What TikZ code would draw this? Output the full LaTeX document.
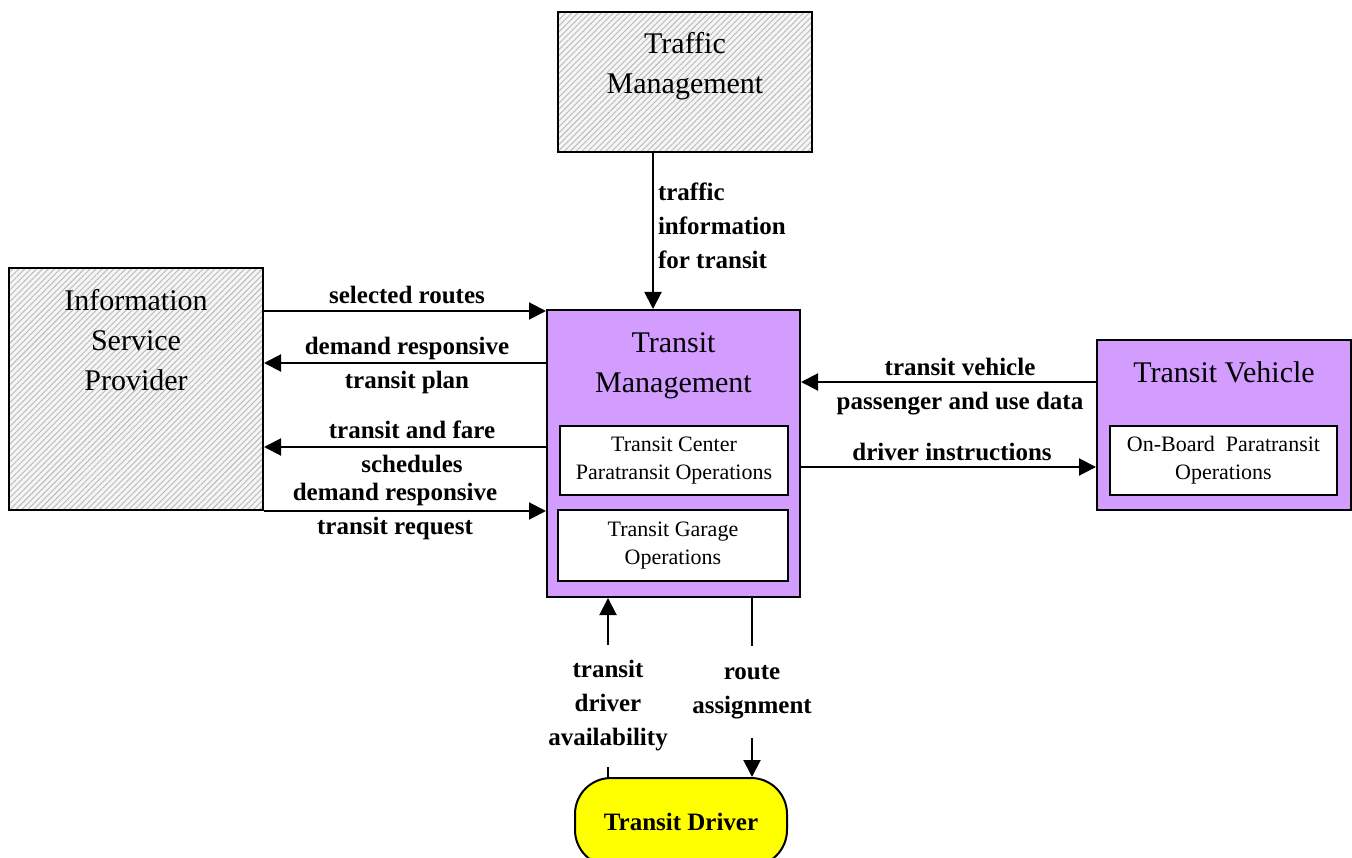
\documentclass[tikz,border=0pt]{standalone}
\usepackage{fontspec}
\setmainfont{Liberation Serif}
\usetikzlibrary{arrows.meta,patterns.meta}

\newcommand{\boxtitlefont}{\fontsize{30}{40}\selectfont}
\newcommand{\subboxfont}{\fontsize{22}{28}\selectfont}
\newcommand{\flowfont}{\bfseries\fontsize{25}{34}\selectfont}

\begin{document}
\begin{tikzpicture}[x=1pt, y=-1pt, line width=2pt,
    extern/.style={draw, preaction={fill=gray!8},
      pattern={Lines[angle=45, distance=4.2pt, line width=0.9pt]},
      pattern color=gray!55, inner sep=0pt},
    subsys/.style={draw, fill=tmpurple, inner sep=0pt},
    subbox/.style={draw, fill=white, align=center, font=\subboxfont, inner sep=0pt},
    boxtitle/.style={align=center, font=\boxtitlefont},
    flowlabel/.style={align=center, font=\flowfont, inner sep=0pt},
    arr/.style={-{Triangle[length=17pt,width=17pt]}}]

  % --- Colours ---
  \definecolor{tmpurple}{HTML}{D39CFF} % Transit Management / Vehicle
  \definecolor{drvyellow}{HTML}{FFFF00} % Transit Driver

  \useasboundingbox (0,0) rectangle (1352,858);

  % --- Terminators (hatched) ---
  \node[extern, minimum width=254pt, minimum height=140pt] (tfm) at (685,82) {};
  \node[boxtitle] (tfmtitle) at (685,66) {Traffic\\Management};

  \node[extern, minimum width=254pt, minimum height=242pt] (isp) at (136,389) {};
  \node[boxtitle] (isptitle) at (136,340) {Information\\Service\\Provider};

  % --- Transit Management ---
  \node[subsys, minimum width=253pt, minimum height=287pt] (tm) at (673.5,453.5) {};
  \node[boxtitle] (tmtitle) at (673.5,366) {Transit\\Management};
  \node[subbox, minimum width=228pt, minimum height=69pt] (tcpo) at (674,460.5)
    {Transit Center\\Paratransit Operations};
  \node[subbox, minimum width=230pt, minimum height=71pt] (tgo) at (673,545.5)
    {Transit Garage\\Operations};

  % --- Transit Vehicle ---
  \node[subsys, minimum width=254pt, minimum height=170pt] (tv) at (1224,425) {};
  \node[boxtitle] (tvtitle) at (1224,372) {Transit Vehicle};
  \node[subbox, minimum width=227pt, minimum height=69pt] (obpo) at (1223.5,460.5)
    {On-Board\ \ Paratransit\\Operations};

  % --- Transit Driver ---
  \node[draw, fill=drvyellow, rounded corners=36pt, minimum width=212pt,
    minimum height=88pt, font=\bfseries\fontsize{25}{30}\selectfont]
    (drv) at (681,822) {Transit Driver};

  % --- Flow labels ---
  \node[flowlabel, anchor=west, align=left, inner xsep=4pt] (lbltraf) at (653,226)
    {traffic\\information\\for transit};
  \node[flowlabel] (lblsel) at (407,295) {selected routes};
  \node[flowlabel] (lblplan) at (407,365) {demand responsive\\transit plan};
  \node[flowlabel] (lblsched) at (412,447) {transit and fare\\schedules};
  \node[flowlabel] (lblreq) at (395,511) {demand responsive\\transit request};
  \node[flowlabel] (lbluse) at (960,387) {transit vehicle\\passenger and use data};
  \node[flowlabel] (lblinstr) at (952,452) {driver instructions};
  \node[flowlabel, inner ysep=15pt] (lblavail) at (608,706)
    {transit\\driver\\availability};
  \node[flowlabel, inner ysep=18pt] (lblroute) at (752,692) {route\\assignment};

  % --- Row levels of the horizontal flows ---
  \coordinate (rowsel) at (0,311);
  \coordinate (rowplan) at (0,363);
  \coordinate (rowsched) at (0,447);
  \coordinate (rowreq) at (0,511);
  \coordinate (rowuse) at (0,382);
  \coordinate (rowinstr) at (0,467);

  % --- Flows ---
  \draw[arr] (lbltraf.west |- tfm.south) -- (lbltraf.west |- tm.north);
  \draw[arr] (isp.east |- rowsel) -- (tm.west |- rowsel);
  \draw[arr] (tm.west |- rowplan) -- (isp.east |- rowplan);
  \draw[arr] (tm.west |- rowsched) -- (isp.east |- rowsched);
  \draw[arr] (isp.east |- rowreq) -- (tm.west |- rowreq);
  \draw[arr] (tv.west |- rowuse) -- (tm.east |- rowuse);
  \draw[arr] (tm.east |- rowinstr) -- (tv.west |- rowinstr);
  % driver availability: line broken by its label
  \draw (lblavail.south) -- (lblavail.south |- drv.north);
  \draw[arr] (lblavail.north) -- (lblavail.north |- tm.south);
  % route assignment: line broken by its label
  \draw (lblroute.north |- tm.south) -- (lblroute.north);
  \draw[arr] (lblroute.south) -- (lblroute.south |- drv.north);

\end{tikzpicture}
\end{document}
